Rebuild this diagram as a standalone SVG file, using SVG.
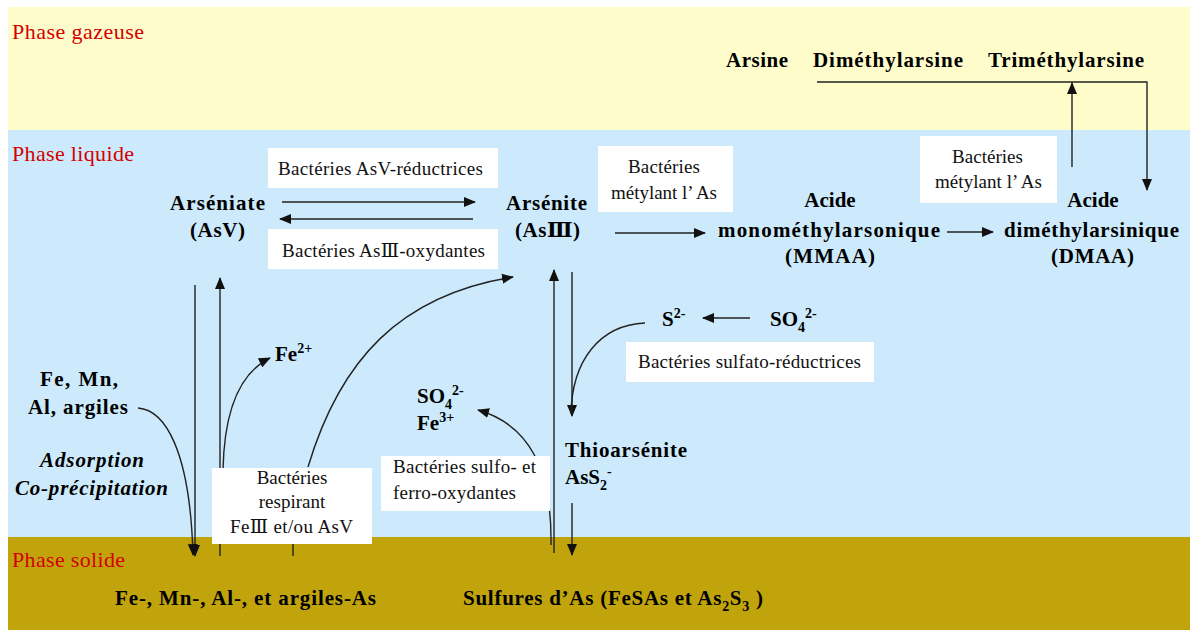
<svg xmlns="http://www.w3.org/2000/svg" width="1190" height="630" viewBox="0 0 1190 630">
<style>
text{font-family:'Liberation Serif','Times New Roman',Times,'DejaVu Serif',serif}
.phase{font-size:22px;fill:#d40000}
.lbl{font-size:21px;font-weight:bold;fill:#000}
.it{font-style:italic}
.bt{font-size:19px;fill:#111}
.box{fill:#fff}
.c{fill:none;stroke:#222;stroke-width:1.4}
.sm{font-size:14px}
</style>
<defs>
<marker id="ah" markerUnits="userSpaceOnUse" markerWidth="12" markerHeight="10" refX="11" refY="5" orient="auto">
<path d="M0,0 L12,5 L0,10 z" fill="#111"/>
</marker>
</defs>
<rect x="0" y="0" width="1190" height="630" fill="#fff"/>
<rect x="8" y="7" width="1182" height="123" fill="#fffccb"/>
<rect x="8" y="130" width="1182" height="407" fill="#cceafb"/>
<rect x="8" y="537" width="1182" height="93" fill="#c1a40b"/>

<g id="phases">
<text class="phase" x="12" y="39" textLength="132">Phase gazeuse</text>
<text class="phase" x="12" y="161" textLength="122">Phase liquide</text>
<text class="phase" x="12" y="567" textLength="113">Phase solide</text>
</g>

<g id="connectors">
<path class="c" d="M282,202 H475" marker-end="url(#ah)"/>
<path class="c" d="M473,219 H280" marker-end="url(#ah)"/>
<path class="c" d="M615,233 H705" marker-end="url(#ah)"/>
<path class="c" d="M947,232 H993" marker-end="url(#ah)"/>
<path class="c" d="M817,82 H1147 V190" marker-end="url(#ah)"/>
<path class="c" d="M1072,167 V83" marker-end="url(#ah)"/>
<path class="c" d="M195,285 V556" marker-end="url(#ah)"/>
<path class="c" d="M220,556 V278" marker-end="url(#ah)"/>
<path class="c" d="M138,408 C165,410 190,450 193,555" marker-end="url(#ah)"/>
<path class="c" d="M223,470 C224,420 235,375 270,358" marker-end="url(#ah)"/>
<path class="c" d="M308,467 C340,360 400,295 513,277" marker-end="url(#ah)"/>
<path class="c" d="M293,544 V556"/>
<path class="c" d="M554,553 V270" marker-end="url(#ah)"/>
<path class="c" d="M572,272 V416" marker-end="url(#ah)"/>
<path class="c" d="M645,323 C600,325 572,360 571,414"/>
<path class="c" d="M750,318 H703" marker-end="url(#ah)"/>
<path class="c" d="M551,545 C552,470 530,425 478,410" marker-end="url(#ah)"/>
<path class="c" d="M572,503 V555" marker-end="url(#ah)"/>
</g>

<g id="box-asv-red"><rect class="box" x="268" y="148" width="230" height="40"/>
<text class="bt" x="278" y="175" textLength="205">Bactéries AsV-réductrices</text></g>
<g id="box-asiii-ox"><rect class="box" x="268" y="229" width="230" height="40"/>
<text class="bt" x="282" y="257" textLength="203">Bactéries AsⅢ-oxydantes</text></g>
<g id="box-met1"><rect class="box" x="598" y="146" width="135" height="66"/>
<text class="bt" x="628" y="173" textLength="72">Bactéries</text>
<text class="bt" x="611" y="199" textLength="106">métylant l’ As</text></g>
<g id="box-met2"><rect class="box" x="920" y="136" width="137" height="67"/>
<text class="bt" x="952" y="163" textLength="71">Bactéries</text>
<text class="bt" x="935" y="188" textLength="107">métylant l’ As</text></g>
<g id="box-sulfato"><rect class="box" x="626" y="342" width="248" height="40"/>
<text class="bt" x="638" y="368" textLength="223">Bactéries sulfato-réductrices</text></g>
<g id="box-sulfo"><rect class="box" x="381" y="456" width="169" height="55"/>
<text class="bt" x="393" y="473" textLength="143">Bactéries sulfo- et</text>
<text class="bt" x="393" y="499" textLength="123">ferro-oxydantes</text></g>
<g id="box-respirant"><rect class="box" x="212" y="468" width="160" height="76"/>
<text class="bt" x="292" y="484" text-anchor="middle">Bactéries</text>
<text class="bt" x="292" y="508" text-anchor="middle">respirant</text>
<text class="bt" x="230" y="533" textLength="123">FeⅢ et/ou AsV</text></g>

<g id="gas">
<text class="lbl" x="726" y="67" textLength="62">Arsine</text>
<text class="lbl" x="813" y="67" textLength="150">Diméthylarsine</text>
<text class="lbl" x="988" y="67" textLength="156">Triméthylarsine</text>
</g>
<g id="asv">
<text class="lbl" x="170" y="210" textLength="95">Arséniate</text>
<text class="lbl" x="190" y="237" textLength="55">(AsV)</text>
</g>
<g id="asiii">
<text class="lbl" x="506" y="210" textLength="81">Arsénite</text>
<text class="lbl" x="515" y="237" textLength="65">(AsⅢ)</text>
</g>
<g id="mmaa">
<text class="lbl" x="830" y="207" text-anchor="middle">Acide</text>
<text class="lbl" x="718" y="237" textLength="222">monométhylarsonique</text>
<text class="lbl" x="785" y="263" textLength="90">(MMAA)</text>
</g>
<g id="dmaa">
<text class="lbl" x="1093" y="207" text-anchor="middle">Acide</text>
<text class="lbl" x="1004" y="237" textLength="175">diméthylarsinique</text>
<text class="lbl" x="1051" y="263" textLength="83">(DMAA)</text>
</g>
<g id="femn">
<text class="lbl" x="40" y="386" textLength="78">Fe, Mn,</text>
<text class="lbl" x="28" y="414" textLength="100">Al, argiles</text>
<text class="lbl it" x="40" y="467" textLength="104">Adsorption</text>
<text class="lbl it" x="15" y="495" textLength="153">Co-précipitation</text>
</g>
<g id="fe2"><text class="lbl" x="275" y="361">Fe<tspan class="sm" dy="-8">2+</tspan></text></g>
<g id="s2"><text class="lbl" x="662" y="326">S<tspan class="sm" dy="-8">2-</tspan></text></g>
<g id="so4r"><text class="lbl" x="770" y="326">SO<tspan class="sm" dy="6">4</tspan><tspan class="sm" dy="-14">2-</tspan></text></g>
<g id="so4fe3">
<text class="lbl" x="417" y="403">SO<tspan class="sm" dy="6">4</tspan><tspan class="sm" dy="-14">2-</tspan></text>
<text class="lbl" x="417" y="430">Fe<tspan class="sm" dy="-8">3+</tspan></text>
</g>
<g id="thio">
<text class="lbl" x="565" y="457" textLength="122">Thioarsénite</text>
<text class="lbl" x="565" y="484">AsS<tspan class="sm" dy="6">2</tspan><tspan class="sm" dy="-14">-</tspan></text>
</g>
<g id="solid1"><text class="lbl" x="115" y="605" textLength="261">Fe-, Mn-, Al-, et argiles-As</text></g>
<g id="solid2"><text class="lbl" x="463" y="605" textLength="300">Sulfures d’As (FeSAs et As<tspan class="sm" dy="6">2</tspan><tspan dy="-6">S</tspan><tspan class="sm" dy="6">3</tspan><tspan dy="-6"> )</tspan></text></g>
</svg>
